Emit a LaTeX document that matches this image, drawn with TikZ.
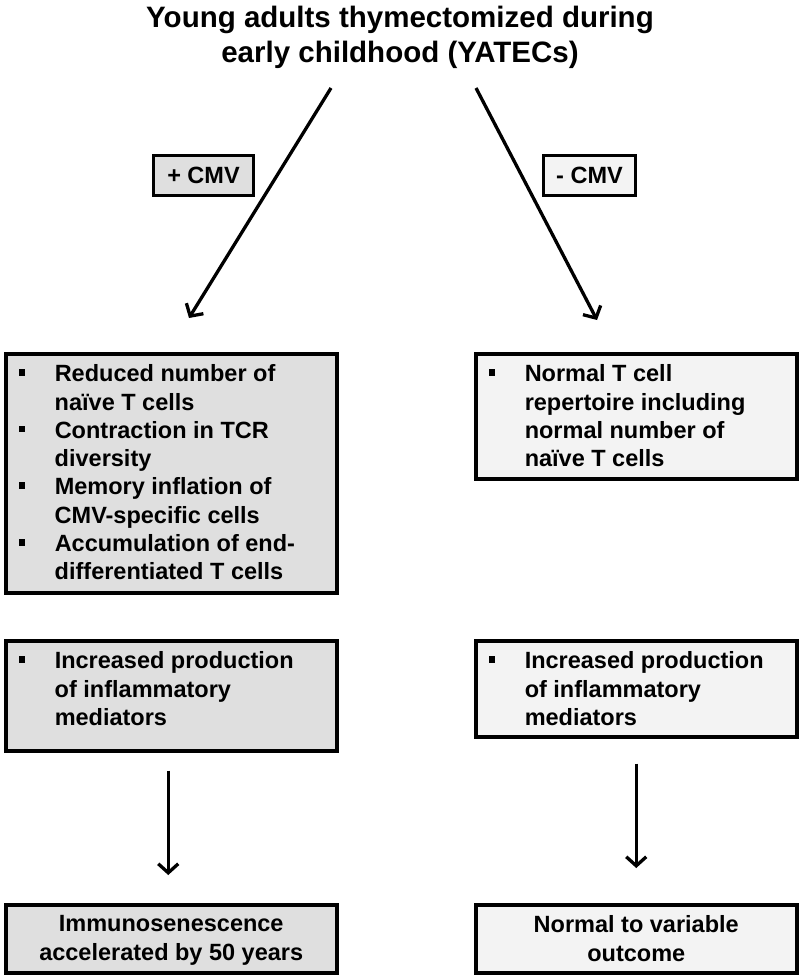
\documentclass[tikz,border=0pt]{standalone}
\usepackage{fontspec}
\setmainfont{Liberation Sans}
\usetikzlibrary{arrows.meta}
\definecolor{gdark}{HTML}{DFDFDF}
\definecolor{glight}{HTML}{F3F3F3}
\newcommand\itm[1]{\par\hangindent=36pt\hangafter=1\noindent\makebox[36pt][l]{\raisebox{6pt}{\rule{6.5pt}{6.5pt}}}#1}
\newcommand\bxtext[3]{\parbox[c][#1][t]{#2}{\fontsize{23.5}{28.3}\selectfont\bfseries\parskip=0pt\parindent=0pt\raggedright #3}}
\newcommand\cxtext[3]{\parbox[c][#1][t]{#2}{\fontsize{23.5}{28.3}\selectfont\bfseries\parskip=0pt\parindent=0pt\centering #3}}
\tikzset{
  bx/.style={draw=black, line width=3.5pt, inner xsep=13pt, inner ysep=11pt, anchor=north west},
  dk/.style={bx, fill=gdark},
  lt/.style={bx, fill=glight},
  tag/.style={draw=black, line width=3.5pt, inner sep=0pt, anchor=center,
    minimum height=40pt, font=\bfseries\fontsize{23.5}{28.3}\selectfont},
  arr/.style={line width=3.3pt, -{Straight Barb[length=9pt,width=20pt]}},
}
\begin{document}
\begin{tikzpicture}[x=1pt,y=1pt]
\useasboundingbox (0,0) rectangle (800,-976);
% title
\node[anchor=north, inner sep=0pt, font=\bfseries\fontsize{29.5}{35}\selectfont] (title) at (400,-6)
  {\parbox[t]{700pt}{\centering Young adults thymectomized during\\ early childhood (YATECs)}};
% tags
\node[tag, fill=gdark, minimum width=100pt] (pcmv) at (203.5,-175.5) {+ CMV};
\node[tag, fill=glight, minimum width=92pt] (mcmv) at (589.5,-175.5) {- CMV};
% top arrows
\coordinate (ls) at (331,-88);
\coordinate (le) at (189,-318);
\coordinate (rs) at (476,-88);
\coordinate (re) at (597,-320);
\draw[arr] (ls) -- (le);
\draw[arr] (rs) -- (re);
% row 1
\node[dk] (lb1) at (4,-352) {\bxtext{217pt}{305pt}{%
  \itm{Reduced number of\newline na\"ive T cells}%
  \itm{Contraction in TCR\newline diversity}%
  \itm{Memory inflation of\newline CMV-specific cells}%
  \itm{Accumulation of end-\newline differentiated T cells}}};
\node[lt] (rb1) at (474,-352) {\bxtext{103pt}{295pt}{%
  \itm{Normal T cell\newline repertoire including\newline normal number of\newline na\"ive T cells}}};
% row 2
\node[dk] (lb2) at (4,-639) {\bxtext{88pt}{305pt}{%
  \itm{Increased production\newline of inflammatory\newline mediators}}};
\node[lt] (rb2) at (474,-639) {\bxtext{74pt}{295pt}{%
  \itm{Increased production\newline of inflammatory\newline mediators}}};
% row 3
\node[dk] (lb3) at (4,-903) {\cxtext{46pt}{305pt}{Immunosenescence\\ accelerated by 50 years}};
\node[lt] (rb3) at (474,-903) {\cxtext{46pt}{295pt}{Normal to variable\\ outcome}};
% down arrows
\draw[arr, shorten <=18pt, shorten >=28pt] ([xshift=-3pt]lb2.south) -- ([xshift=-3pt]lb3.north);
\draw[arr, shorten <=25pt, shorten >=35pt] (rb2.south) -- (rb3.north);
\end{tikzpicture}
\end{document}
